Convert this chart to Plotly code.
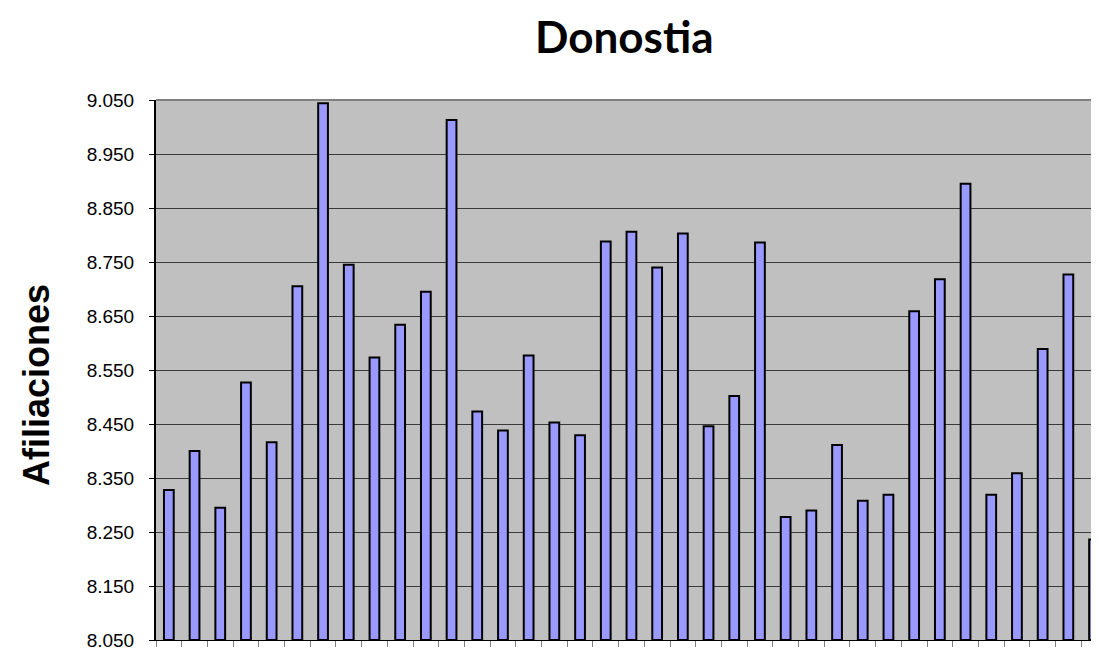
import plotly.graph_objects as go

# Data
categories = [f"P{i+1}" for i in range(37)]
afiliaciones = [
    8328, 8400, 8295, 8527, 8416, 8705, 9044, 8745, 8573, 8634,
    8695, 9013, 8473, 8438, 8577, 8453, 8429, 8788, 8806, 8740,
    8803, 8446, 8502, 8786, 8278, 8290, 8411, 8308, 8319, 8659,
    8718, 8895, 8319, 8359, 8589, 8727, 8236,
]
y_ticks = [8050, 8150, 8250, 8350, 8450, 8550, 8650, 8750, 8850, 8950, 9050]
BASE = 8050

fig = go.Figure(
    go.Bar(
        x=categories,
        y=[v - BASE for v in afiliaciones],
        base=BASE,
        marker=dict(color="#9999FF", line=dict(color="#000000", width=2)),
    )
)

# The page body keeps an 8px margin, so the figure is sized to fit inside it.
W, H = 1083, 643
L, T, B = 148, 92, 11
plot_w = W - L
plot_h = H - T - B

fig.update_layout(
    width=W,
    height=H,
    margin=dict(l=L, r=0, t=T, b=B),
    paper_bgcolor="#FFFFFF",
    plot_bgcolor="#C0C0C0",
    separators=",.",
    bargap=0.62,
    showlegend=False,
    font=dict(family="Liberation Sans, Arial, sans-serif", color="#000000"),
)
fig.update_xaxes(
    type="category",
    range=[-0.5, -0.5 + plot_w / 25.7],
    showticklabels=False,
    ticks="outside",
    tickson="boundaries",
    ticklen=6,
    tickcolor="#808080",
    tickwidth=1,
    showgrid=False,
    showline=True,
    linecolor="#000000",
    linewidth=1,
    zeroline=False,
    automargin=False,
)
fig.update_yaxes(
    range=[8050, 9050],
    tickvals=y_ticks,
    tickformat=",.0f",
    ticks="outside",
    ticklen=5,
    tickcolor="#000000",
    ticklabelstandoff=11,
    tickfont=dict(size=19, family="Liberation Sans, Arial, sans-serif"),
    showgrid=True,
    gridcolor="#3A3A3A",
    gridwidth=1,
    showline=True,
    linecolor="#000000",
    linewidth=2,
    zeroline=False,
    automargin=False,
)
# top border of plot area
fig.add_shape(type="line", xref="paper", yref="paper", x0=0, x1=1, y0=1, y1=1,
              line=dict(color="#808080", width=2))

fig.add_annotation(
    text="Donostia", xref="paper", yref="paper", x=(616 - L) / plot_w, y=1,
    yshift=T, showarrow=False, xanchor="center", yanchor="top",
    font=dict(family="Lato, sans-serif", size=44, color="#000000", weight="bold"),
)
fig.add_annotation(
    text="Afiliaciones", xref="paper", yref="paper", x=0, y=(T + plot_h - 377) / plot_h,
    xshift=-120, showarrow=False, textangle=-90, xanchor="center", yanchor="middle",
    font=dict(family="Liberation Sans, Arial, sans-serif", size=36, color="#000000", weight="bold"),
)

fig.write_html("out.html")
